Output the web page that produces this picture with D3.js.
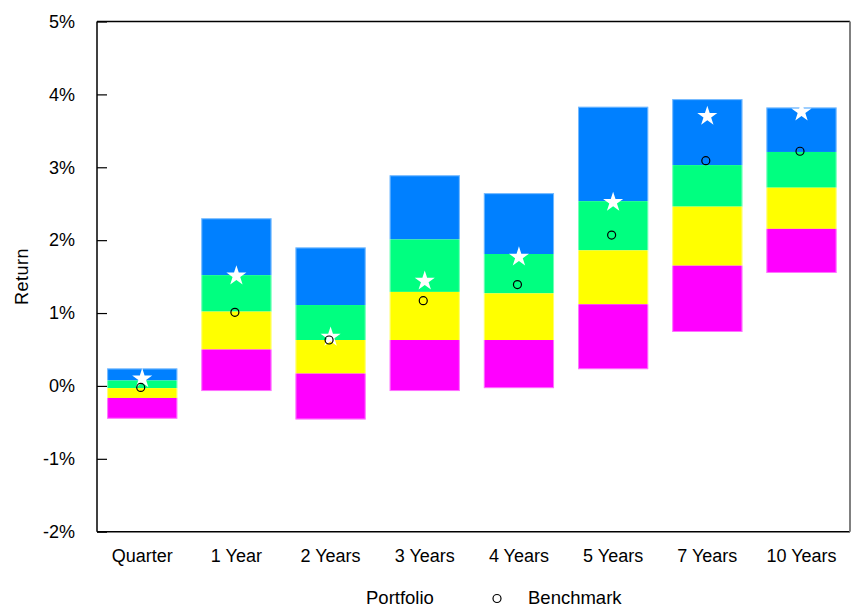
<!DOCTYPE html>
<html>
<head>
<meta charset="utf-8">
<script src="https://cdn.jsdelivr.net/npm/d3@7"></script>
<style>
  html, body { margin: 0; padding: 0; background: #fff; }
  svg { display: block; font-family: "Liberation Sans", Arial, sans-serif; }
</style>
</head>
<body>
<svg id="chart" width="864" height="613"></svg>
<script>
// Return periods shown along the x axis
const categories = ["Quarter", "1 Year", "2 Years", "3 Years", "4 Years", "5 Years", "7 Years", "10 Years"];

// Range boundaries of the peer universe (in %), from top of each bar down
const p95 = [0.24, 2.30, 1.90, 2.89, 2.645, 3.83, 3.935, 3.82];
const p75 = [0.075, 1.52, 1.11, 2.01, 1.81, 2.535, 3.03, 3.21];
const p50 = [-0.03, 1.02, 0.63, 1.29, 1.27, 1.86, 2.46, 2.72];
const p25 = [-0.165, 0.50, 0.17, 0.63, 0.63, 1.12, 1.65, 2.155];
const p05 = [-0.45, -0.07, -0.46, -0.07, -0.03, 0.23, 0.74, 1.55];

// Portfolio (star) and benchmark (circle) returns in %
const portfolio = [0.10, 1.51, 0.67, 1.44, 1.77, 2.52, 3.70, 3.76];
const benchmark = [-0.02, 1.01, 0.63, 1.17, 1.39, 2.07, 3.09, 3.22];

// Y axis tick values
const yTicks = [5, 4, 3, 2, 1, 0, -1, -2];

const bandColors = ["#0080ff", "#00ff80", "#ffff00", "#ff00ff"];

const svg = d3.select("#chart");
const margin = { left: 97, top: 21.5, right: 14, bottom: 81.3 };
const W = 864, H = 613;
const plotW = W - margin.left - margin.right;
const plotH = H - margin.top - margin.bottom;

const x = d3.scaleBand().domain(categories).range([0, plotW])
  .paddingInner(0.255).paddingOuter(0.125).align(0.43);
const y = d3.scaleLinear().domain([-2, 5]).range([plotH, 0]);

const g = svg.append("g").attr("transform", `translate(${margin.left},${margin.top})`);

// Stacked range bars: top band is blue down to magenta at the bottom
const bounds = [p95, p75, p50, p25, p05];
categories.forEach((c, i) => {
  for (let k = 0; k < 4; k++) {
    const hi = bounds[k][i], lo = bounds[k + 1][i];
    g.append("rect")
      .attr("x", x(c))
      .attr("y", y(hi))
      .attr("width", x.bandwidth())
      .attr("height", y(lo) - y(hi))
      .attr("fill", bandColors[k]);
  }
  // light outline around the whole bar
  g.append("rect")
    .attr("x", x(c) + 0.5)
    .attr("y", y(p95[i]) + 0.5)
    .attr("width", x.bandwidth() - 1)
    .attr("height", y(p05[i]) - y(p95[i]) - 1)
    .attr("fill", "none")
    .attr("stroke", "#ffffff")
    .attr("stroke-opacity", 0.45)
    .attr("stroke-width", 1);
});

// Portfolio markers
const star = d3.symbol().type(d3.symbolStar).size(125);
g.selectAll(".port")
  .data(categories)
  .join("path")
  .attr("class", "port")
  .attr("d", star)
  .attr("transform", (c, i) => `translate(${x(c) + x.bandwidth() / 2},${y(portfolio[i])})`)
  .attr("fill", "#ffffff");

// Benchmark markers
g.selectAll(".bench")
  .data(categories)
  .join("circle")
  .attr("class", "bench")
  .attr("cx", c => x(c) + x.bandwidth() / 2 - 1.5)
  .attr("cy", (c, i) => y(benchmark[i]))
  .attr("r", 4)
  .attr("fill", "none")
  .attr("stroke", "#000")
  .attr("stroke-width", 1.2);

// Y axis with inward ticks
const yAxis = d3.axisLeft(y)
  .tickValues(yTicks)
  .tickFormat(d => d + "%")
  .tickSizeInner(-10)
  .tickSizeOuter(0)
  .tickPadding(22);
const ya = g.append("g").call(yAxis);
ya.select(".domain").remove();
ya.selectAll(".tick line").attr("stroke", "#000").attr("stroke-width", 1.2);
ya.selectAll(".tick text")
  .attr("font-size", 18)
  .attr("fill", "#000")
  .attr("font-family", "Liberation Sans, Arial, sans-serif");

// Plot frame
g.append("line").attr("x1", 0).attr("x2", plotW).attr("y1", 0).attr("y2", 0).attr("stroke", "#000").attr("stroke-width", 1.5);
g.append("line").attr("x1", 0).attr("x2", 0).attr("y1", 0).attr("y2", plotH).attr("stroke", "#000").attr("stroke-width", 1.5);
g.append("line").attr("x1", 0).attr("x2", plotW).attr("y1", plotH).attr("y2", plotH).attr("stroke", "#000").attr("stroke-width", 1.5);
g.append("line").attr("x1", plotW).attr("x2", plotW).attr("y1", 0).attr("y2", plotH).attr("stroke", "#808080").attr("stroke-width", 2);

// Category labels
g.selectAll(".cat")
  .data(categories)
  .join("text")
  .attr("class", "cat")
  .attr("x", c => x(c) + x.bandwidth() / 2)
  .attr("y", plotH + 30)
  .attr("text-anchor", "middle")
  .attr("font-size", 18)
  .attr("fill", "#000")
  .text(d => d);

// Y axis title
svg.append("text")
  .attr("transform", `translate(28,${margin.top + plotH / 2}) rotate(-90)`)
  .attr("text-anchor", "middle")
  .attr("font-size", 18)
  .attr("letter-spacing", 0.5)
  .attr("fill", "#000")
  .text("Return");

// Legend
const leg = svg.append("g");
leg.append("text").attr("x", 366).attr("y", 604).attr("font-size", 18.5).attr("fill", "#000").text("Portfolio");
leg.append("circle").attr("cx", 497).attr("cy", 598.5).attr("r", 4).attr("fill", "none").attr("stroke", "#000").attr("stroke-width", 1.2);
leg.append("text").attr("x", 528).attr("y", 604).attr("font-size", 18.5).attr("fill", "#000").text("Benchmark");
</script>
</body>
</html>
